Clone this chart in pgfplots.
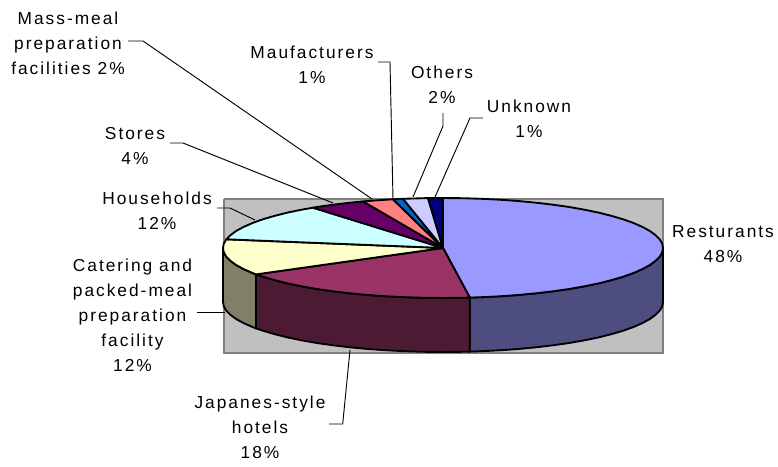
\documentclass[border=0pt]{standalone}
\usepackage{fontspec}
\setmainfont[LetterSpace=11.5]{Liberation Sans}
\usepackage{pgfplots}
\pgfplotsset{compat=1.18}
\definecolor{wall}{HTML}{C0C0C0}
\definecolor{wallb}{HTML}{808080}
\definecolor{resT}{HTML}{9999FF}
\definecolor{resS}{HTML}{4D4D80}
\definecolor{japT}{HTML}{993366}
\definecolor{japS}{HTML}{4D1A33}
\definecolor{catT}{HTML}{FFFFCC}
\definecolor{catS}{HTML}{808066}
\definecolor{houT}{HTML}{CCFFFF}
\definecolor{stoT}{HTML}{660066}
\definecolor{masT}{HTML}{FF8080}
\definecolor{manT}{HTML}{0066CC}
\definecolor{othT}{HTML}{CCCCFF}
\definecolor{unkT}{HTML}{000080}
\tikzset{
  slice/.style={draw=black, line width=1.4pt, line join=round},
  leader/.style={draw=black, line width=0.7pt, line join=miter},
  lab/.style={font=\fontsize{13}{18.75}\selectfont, align=center, inner sep=0pt, anchor=center, text=black}
}
\begin{document}
\begin{tikzpicture}
\begin{axis}[
  scale only axis, width=583.5pt, height=350.25pt,
  xmin=0, xmax=778, ymin=0, ymax=467, y dir=reverse,
  hide axis, clip=false, at={(0,0)}, anchor=south west
]
% wall
\addplot[fill=wall, draw=wallb, line width=1.5pt] coordinates {(223.5,198.5)(662.5,198.5)(662.5,352.5)(223.5,352.5)(223.5,198.5)};
% sides
\addplot[slice, fill=resS] coordinates {(663,248)(662.2,252.4)(659.7,256.7)(655.5,260.9)(649.7,265.1)(642.4,269.1)(633.5,273)(623.2,276.7)(611.5,280.1)(598.6,283.4)(584.4,286.3)(569.2,289)(553,291.3)(536,293.3)(518.2,295)(499.9,296.3)(481.2,297.2)(469.8,297.6)
(469.8,351.6)(481.2,351.2)(499.9,350.3)(518.2,349)(536,347.3)(553,345.3)(569.2,343)(584.4,340.3)(598.6,337.4)(611.5,334.1)(623.2,330.7)(633.5,327)(642.4,323.1)(649.7,319.1)(655.5,314.9)(659.7,310.7)(662.2,306.4)(663,302)(663,248)};
\addplot[slice, fill=japS] coordinates {(469.8,297.6)(462.2,297.8)(443,298)(423.8,297.8)(404.8,297.2)(386.1,296.3)(367.8,295)(350,293.3)(333,291.3)(316.8,289)(301.6,286.3)(287.4,283.4)(274.5,280.1)(262.8,276.7)(256,274.4)
(256,328.4)(262.8,330.7)(274.5,334.1)(287.4,337.4)(301.6,340.3)(316.8,343)(333,345.3)(350,347.3)(367.8,349)(386.1,350.3)(404.8,351.2)(423.8,351.8)(443,352)(462.2,351.8)(469.8,351.6)(469.8,297.6)};
\addplot[slice, fill=catS] coordinates {(256,274.4)(252.5,273)(243.6,269.1)(236.3,265.1)(230.5,260.9)(226.3,256.7)(223.8,252.4)(223,248)
(223,302)(223.8,306.4)(226.3,310.7)(230.5,314.9)(236.3,319.1)(243.6,323.1)(252.5,327)(256,328.4)(256,274.4)};
% tops
\addplot[slice, fill=resT] coordinates {(443,248)(443,198)(462.2,198.2)(481.2,198.8)(499.9,199.7)(518.2,201)(536,202.7)(553,204.7)(569.2,207)(584.4,209.7)(598.6,212.6)(611.5,215.9)(623.2,219.3)(633.5,223)(642.4,226.9)(649.7,230.9)(655.5,235.1)(659.7,239.3)(662.2,243.6)(663,248)(662.2,252.4)(659.7,256.7)(655.5,260.9)(649.7,265.1)(642.4,269.1)(633.5,273)(623.2,276.7)(611.5,280.1)(598.6,283.4)(584.4,286.3)(569.2,289)(553,291.3)(536,293.3)(518.2,295)(499.9,296.3)(481.2,297.2)(469.8,297.6)(443,248)};
\addplot[slice, fill=japT] coordinates {(443,248)(469.8,297.6)(462.2,297.8)(443,298)(423.8,297.8)(404.8,297.2)(386.1,296.3)(367.8,295)(350,293.3)(333,291.3)(316.8,289)(301.6,286.3)(287.4,283.4)(274.5,280.1)(262.8,276.7)(256,274.4)(443,248)};
\addplot[slice, fill=catT] coordinates {(443,248)(256,274.4)(252.5,273)(243.6,269.1)(236.3,265.1)(230.5,260.9)(226.3,256.7)(223.8,252.4)(223,248)(223.8,243.6)(226.3,239.3)(443,248)};
\addplot[slice, fill=houT] coordinates {(443,248)(226.3,239.3)(230.5,235.1)(236.3,230.9)(243.6,226.9)(252.5,223)(262.8,219.3)(274.5,215.9)(287.4,212.6)(301.6,209.7)(313,207.7)(443,248)};
\addplot[slice, fill=stoT] coordinates {(443,248)(313,207.7)(316.8,207)(333,204.7)(350,202.7)(363,201.4)(443,248)};
\addplot[slice, fill=masT] coordinates {(443,248)(363,201.4)(367.8,201)(386.1,199.7)(393,199.3)(443,248)};
\addplot[slice, fill=manT] coordinates {(443,248)(393,199.3)(403,198.8)(443,248)};
\addplot[slice, fill=othT] coordinates {(443,248)(403,198.8)(423.8,198.2)(428,198.1)(443,248)};
\addplot[slice, fill=unkT] coordinates {(443,248)(428,198.1)(443,198)(443,248)};
% leaders
\addplot[leader] coordinates {(128,41)(143,41)(372,199)};
\addplot[leader] coordinates {(378,62)(390,62)(393,199)};
\addplot[leader] coordinates {(443,113)(443,126)(413,197)};
\addplot[leader] coordinates {(483,118)(470,118)(435,197)};
\addplot[leader] coordinates {(170,143)(183,143)(333,203)};
\addplot[leader] coordinates {(217,208)(230,208)(255,220)};
\addplot[leader] coordinates {(197,312)(225,312)};
\addplot[leader] coordinates {(350,350)(342.7,424)(329,424)};
% labels
\node[lab] at (axis cs:68,43) {Mass-meal\\preparation\\facilities 2\%};
\node[lab] at (axis cs:312,64.5) {Maufacturers\\1\%};
\node[lab] at (axis cs:135,145.5) {Stores\\4\%};
\node[lab] at (axis cs:442,84.5) {Others\\2\%};
\node[lab] at (axis cs:529,119) {Unknown\\1\%};
\node[lab] at (axis cs:157,210.5) {Households\\12\%};
\node[lab] at (axis cs:132.5,315) {Catering and\\packed-meal\\preparation\\facility\\12\%};
\node[lab] at (axis cs:723,244.5) {Resturants\\48\%};
\node[lab] at (axis cs:260,427) {Japanes-style\\hotels\\18\%};
\end{axis}
\pgfresetboundingbox
\path[use as bounding box] (0,0) rectangle (583.5pt,350.25pt);
\end{tikzpicture}
\end{document}
